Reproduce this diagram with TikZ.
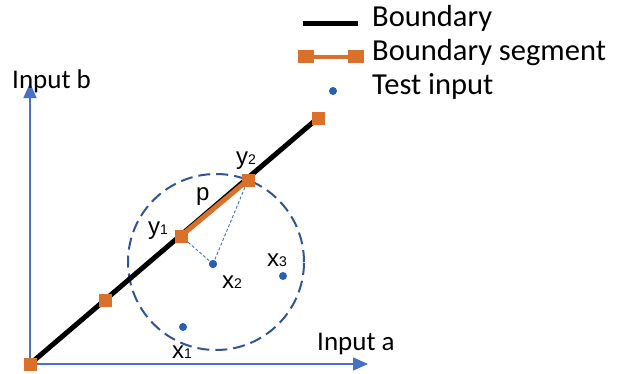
\documentclass[tikz,border=0pt]{standalone}
\usepackage{fontspec}
\setmainfont{Carlito}
\newfontfamily\arialf{Liberation Sans}
\usetikzlibrary{arrows.meta}
\definecolor{axisblue}{RGB}{68,114,196}
\definecolor{circblue}{RGB}{47,85,151}
\definecolor{dotblue}{RGB}{38,96,180}
\definecolor{segorange}{RGB}{217,113,43}
\tikzset{
  sq/.style={fill=segorange, minimum width=13pt, minimum height=13pt, inner sep=0pt, draw=none, rectangle},
  dot/.style={circle, fill=dotblue, minimum size=8pt, inner sep=0pt},
  axis/.style={axisblue, line width=1.5pt, -{Triangle[length=15pt,width=13pt]}},
  lbl/.style={font=\arialf\fontsize{24}{24}\selectfont, anchor=base west, inner sep=0pt},
  axlbl/.style={font=\fontsize{27}{27}\selectfont, anchor=base west, inner sep=0pt},
  leg/.style={font=\fontsize{30.5}{30.5}\selectfont, anchor=base west, inner sep=0pt},
  proj/.style={axisblue, line width=0.9pt, dash pattern=on 3pt off 2pt},
}
\newcommand{\subs}[1]{{\fontsize{14}{14}\selectfont #1}}
\begin{document}
\begin{tikzpicture}[x=1pt,y=-1pt]
\useasboundingbox (0,0) rectangle (625,373);
% axes
\coordinate (O) at (30,364);
\coordinate (bt) at (30,83);
\coordinate (at) at (368,364);
\draw[axis] (O) -- (bt);
\draw[axis] (O) -- (at);
\node[axlbl] (ib) at (12,88) {Input b};
\node[axlbl] (ia) at (317,350) {Input a};
% circle
\node[draw=circblue, line width=2pt, dash pattern=on 12pt off 6pt, circle, minimum size=176pt, inner sep=0pt] (c) at (216,262) {};
% boundary
\coordinate (bend) at (318,118);
\draw[black, line width=5pt] (O) -- (bend);
% points
\node[dot] (x1) at (183,327) {};
\node[dot] (x2) at (213,264) {};
\node[dot] (x3) at (283,276) {};
% boundary squares
\node[sq] (s0) at (30,364) {};
\node[sq] (s1) at (105,300) {};
\node[sq] (y1) at (181,236) {};
\node[sq] (y2) at (248,180) {};
\node[sq] (s4) at (318,118) {};
\draw[proj] (x2.center) -- (y1.center);
\draw[proj] (x2.center) -- (y2.center);
\draw[segorange, line width=5pt] (y1.center) -- (y2.center);
\node[sq] at (y1) {};
\node[sq] at (y2) {};
\node[dot] at (x2) {};
% labels
\node[lbl] (ly1) at (148,234) {y\subs{1}};
\node[lbl] (ly2) at (236,164) {y\subs{2}};
\node[lbl] (lp) at (196,200) {p};
\node[lbl] (lx1) at (172,358) {x\subs{1}};
\node[lbl] (lx2) at (222,288) {x\subs{2}};
\node[lbl] (lx3) at (267,266) {x\subs{3}};
% legend
\coordinate (l1a) at (303,23.5);
\coordinate (l1b) at (358,23.5);
\draw[black, line width=5pt] (l1a) -- (l1b);
\node[leg] (t1) at (372,26) {Boundary};
\node[sq, minimum width=16pt] (l2a) at (306,56.5) {};
\node[sq, minimum width=16pt] (l2b) at (356,56.5) {};
\draw[segorange, line width=4pt] (l2a) -- (l2b);
\node[leg] (t2) at (372,60) {Boundary segment};
\node[dot] (l3) at (333,91) {};
\node[leg] (t3) at (372,94) {Test input};
\end{tikzpicture}
\end{document}
